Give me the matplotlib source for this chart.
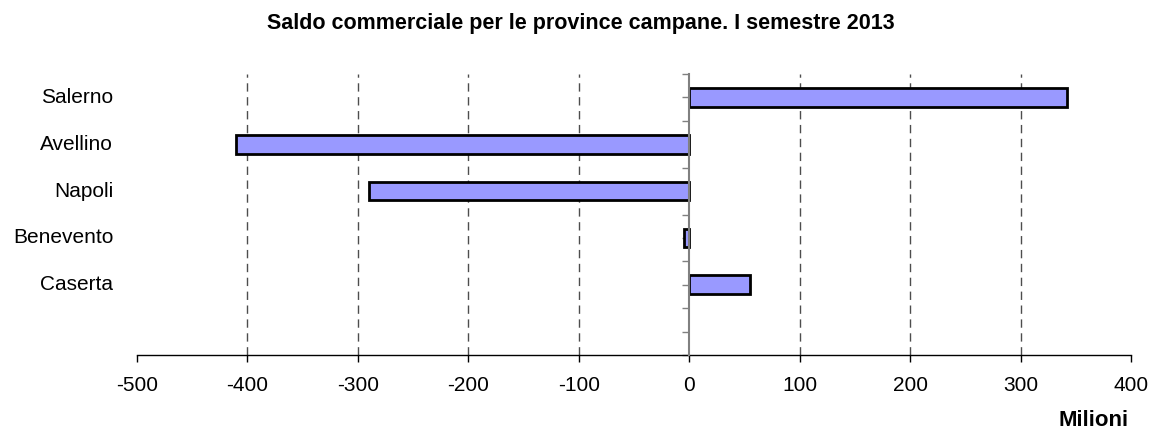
import matplotlib
matplotlib.use("Agg")
import matplotlib.pyplot as plt
import matplotlib.transforms as mtransforms
import numpy as np

plt.rcParams['font.family'] = ['Liberation Sans', 'DejaVu Sans']

# dati (milioni di euro)
province = ["Salerno", "Avellino", "Napoli", "Benevento", "Caserta"]
saldo = [342, -410, -290, -5, 55]
x_ticks = [-500, -400, -300, -200, -100, 0, 100, 200, 300, 400]

fig = plt.figure(figsize=(11.51, 4.30), dpi=100)
ax = fig.add_axes([137 / 1151, 1 - 355 / 430, 994 / 1151, 281 / 430])

pos = np.arange(len(province)) + 0.5
ax.barh(pos, saldo, height=0.4, color="#9999ff", edgecolor="black", linewidth=2, zorder=3)

ax.set_xlim(-500, 400)
ax.set_ylim(6, 0)
ax.set_xticks(x_ticks)
ax.set_xticklabels([str(v) for v in x_ticks], fontsize=15)
ax.set_yticks(np.arange(0, 6.01, 0.5))
ax.set_yticklabels([])

# griglia verticale tratteggiata (non sugli estremi e non sullo zero)
for v in x_ticks:
    if v in (-500, 0, 400):
        continue
    ax.axvline(v, color="#4d4d4d", linewidth=1, linestyle=(0, (6, 4)), zorder=1)

for s in ("top", "right"):
    ax.spines[s].set_visible(False)
ax.spines["left"].set_position(("data", 0))
ax.spines["left"].set_color("#808080")
ax.spines["left"].set_linewidth(1.5)
ax.spines["left"].set_zorder(4)
ax.spines["bottom"].set_linewidth(1)

ax.tick_params(axis="x", direction="out", length=5, width=1, pad=10)
ax.tick_params(axis="y", direction="out", length=5, width=1, color="#808080")

trans = mtransforms.blended_transform_factory(ax.transAxes, ax.transData)
for p, nome in zip(pos, province):
    ax.text(-0.024, p, nome, transform=trans, ha="right", va="center", fontsize=15)

fig.text(581 / 1151, 1 - 24 / 430, "Saldo commerciale per le province campane. I semestre 2013",
         ha="center", va="center", fontsize=15.5, fontweight="bold")
fig.text(1129 / 1151, 1 - 421 / 430, "Milioni", ha="right", va="center",
         fontsize=16, fontweight="bold")

fig.savefig("out.png", dpi=100)
